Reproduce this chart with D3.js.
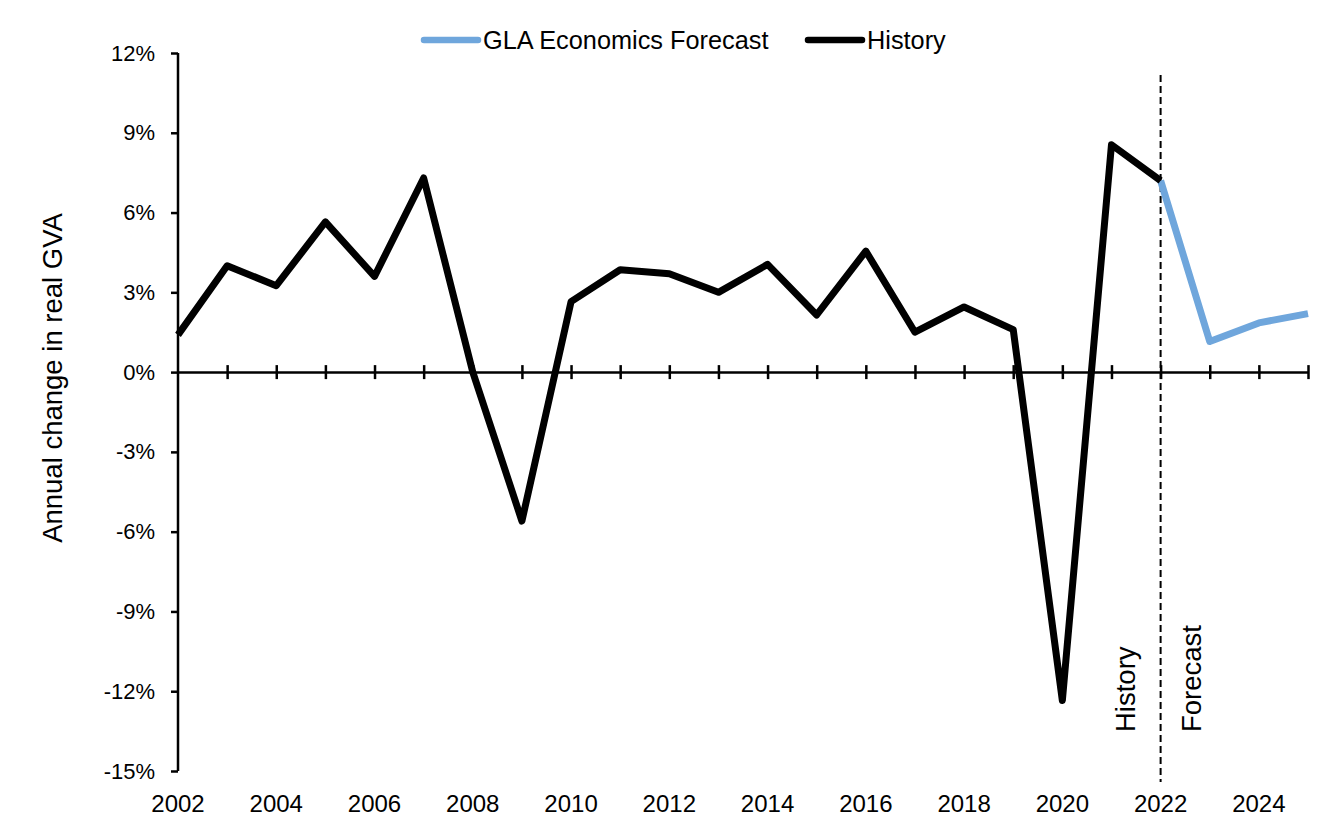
<!DOCTYPE html>
<html><head><meta charset="utf-8">
<script src="https://cdn.jsdelivr.net/npm/d3@7"></script>
<style>body{margin:0;background:#fff}svg{font-family:"Liberation Sans",Arial,sans-serif}</style>
</head><body><svg id="c" width="1333" height="839"></svg>
<script>
const historyYears = [2002,2003,2004,2005,2006,2007,2008,2009,2010,2011,2012,2013,2014,2015,2016,2017,2018,2019,2020,2021,2022];
const historyValues = [1.4,4.0,3.25,5.65,3.6,7.3,0.0,-5.6,2.65,3.85,3.7,3.0,4.05,2.15,4.55,1.5,2.45,1.6,-12.35,8.55,7.2];
const forecastYears = [2022,2023,2024,2025];
const forecastValues = [7.2,1.15,1.85,2.2];
const yTicks = [12,9,6,3,0,-3,-6,-9,-12,-15];
const xTickLabels = [2002,2004,2006,2008,2010,2012,2014,2016,2018,2020,2022,2024];

const svg = d3.select("#c");
const x = d3.scaleLinear().domain([2002,2025]).range([178,1308]);
const y = d3.scaleLinear().domain([-15,12]).range([771,53]);

// y axis
const ya = svg.append("g").attr("transform","translate(178,0)")
  .call(d3.axisLeft(y).tickValues(yTicks).tickSize(7).tickPadding(16).tickFormat(d=>d+"%"));
ya.select(".domain").attr("stroke","#000").attr("stroke-width",2.5).attr("d","M0,53V771");
ya.selectAll(".tick line").attr("stroke","#000").attr("stroke-width",2.5);
ya.selectAll(".tick text").attr("font-size",22).attr("fill","#000").attr("font-family","Liberation Sans, Arial, sans-serif");

// x axis at zero
const years = d3.range(2002,2026);
const xa = svg.append("g").attr("transform",`translate(0,${y(0)})`)
  .call(d3.axisBottom(x).tickValues(years).tickSize(0).tickFormat(""));
xa.select(".domain").attr("stroke","#000").attr("stroke-width",2.5);
xa.selectAll(".tick line").attr("stroke","#000").attr("stroke-width",2.5).attr("y1",-7).attr("y2",7);
xa.selectAll(".tick").filter(d=>d===2002).select("line").remove();

// x labels at bottom
svg.append("g").selectAll("text").data(xTickLabels).join("text")
  .attr("x",d=>x(d)).attr("y",812).attr("text-anchor","middle")
  .attr("font-size",24).attr("fill","#000").text(d=>d);

// dashed divider
svg.append("line").attr("x1",x(2022)).attr("x2",x(2022)).attr("y1",75).attr("y2",782)
  .attr("stroke","#000").attr("stroke-width",2).attr("stroke-dasharray","7,4");

// lines
const line = d3.line().x(d=>x(d[0])).y(d=>y(d[1]));
svg.append("path").datum(forecastYears.map((d,i)=>[d,forecastValues[i]]))
  .attr("d",line).attr("fill","none").attr("stroke","#6fa6dc").attr("stroke-width",7).attr("stroke-linejoin","round");
svg.append("path").datum(historyYears.map((d,i)=>[d,historyValues[i]]))
  .attr("d",line).attr("fill","none").attr("stroke","#000").attr("stroke-width",7).attr("stroke-linejoin","round");

// vertical labels
svg.append("text").attr("transform",`translate(1135,732) rotate(-90)`).attr("font-size",27.5).attr("fill","#000").text("History");
svg.append("text").attr("transform",`translate(1201,732) rotate(-90)`).attr("font-size",27.5).attr("fill","#000").text("Forecast");

// y title
svg.append("text").attr("transform",`translate(62,378) rotate(-90)`).attr("text-anchor","middle")
  .attr("font-size",27.5).attr("fill","#000").text("Annual change in real GVA");

// legend
const leg = svg.append("g");
leg.append("line").attr("x1",424).attr("x2",478).attr("y1",40).attr("y2",40).attr("stroke","#6fa6dc").attr("stroke-width",6.5).attr("stroke-linecap","round");
leg.append("text").attr("x",483).attr("y",49).attr("font-size",25.3).attr("fill","#000").text("GLA Economics Forecast");
leg.append("line").attr("x1",808).attr("x2",862).attr("y1",40).attr("y2",40).attr("stroke","#000").attr("stroke-width",6.5).attr("stroke-linecap","round");
leg.append("text").attr("x",867).attr("y",49).attr("font-size",25.3).attr("fill","#000").text("History");
</script></body></html>
